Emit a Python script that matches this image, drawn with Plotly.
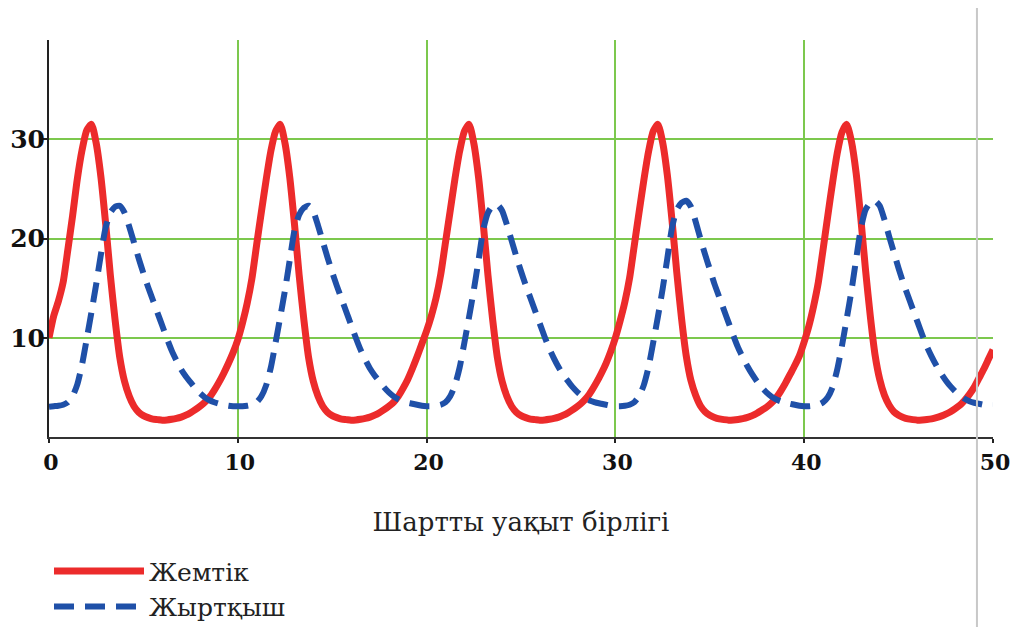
import plotly.graph_objects as go

# sample grid: conditional time units, step 0.25
time = [k * 0.25 for k in range(201)]

# prey ("Жемтік"), t = 0 ... 50 by 0.25
prey = [
    # 0 - 9.75
    10.0, 12.2, 13.7, 15.6, 18.9, 22.3, 26.0, 28.9, 30.9, 31.5,
    29.6, 26.2, 21.5, 16.3, 11.8, 8.0, 5.6, 4.1, 3.1, 2.5,
    2.15, 1.95, 1.8, 1.75, 1.7, 1.72, 1.78, 1.87, 2.0, 2.2,
    2.45, 2.75, 3.1, 3.5, 4.0, 4.7, 5.5, 6.4, 7.4, 8.5,
    # 10 - 19.75
    9.8, 11.5, 13.5, 16.0, 19.4, 22.7, 25.9, 28.8, 30.8, 31.5,
    29.6, 26.2, 21.5, 16.3, 11.8, 8.0, 5.6, 4.1, 3.1, 2.5,
    2.15, 1.95, 1.8, 1.75, 1.7, 1.72, 1.78, 1.87, 2.0, 2.2,
    2.45, 2.75, 3.1, 3.5, 4.1, 4.9, 5.8, 6.9, 8.1, 9.4,
    # 20 - 29.75
    10.7, 12.2, 14.0, 16.4, 19.6, 22.8, 26.0, 28.8, 30.8, 31.5,
    29.6, 26.2, 21.5, 16.3, 11.8, 8.0, 5.6, 4.1, 3.1, 2.5,
    2.15, 1.95, 1.8, 1.75, 1.7, 1.72, 1.78, 1.87, 2.0, 2.2,
    2.45, 2.75, 3.1, 3.5, 4.0, 4.7, 5.5, 6.4, 7.4, 8.6,
    # 30 - 39.75
    10.0, 11.7, 13.6, 16.0, 19.3, 22.6, 25.8, 28.7, 30.8, 31.5,
    29.7, 26.4, 21.8, 16.6, 12.0, 8.2, 5.7, 4.2, 3.15, 2.55,
    2.2, 1.97, 1.82, 1.75, 1.7, 1.72, 1.77, 1.85, 1.97, 2.15,
    2.4, 2.7, 3.0, 3.4, 3.9, 4.6, 5.4, 6.3, 7.2, 8.2,
    # 40 - 49.75
    9.6, 11.2, 13.2, 15.6, 18.9, 22.3, 25.6, 28.6, 30.7, 31.5,
    29.8, 26.6, 22.0, 16.8, 12.2, 8.3, 5.8, 4.2, 3.2, 2.55,
    2.2, 1.97, 1.82, 1.75, 1.7, 1.72, 1.76, 1.83, 1.95, 2.1,
    2.3, 2.55, 2.85, 3.2, 3.7, 4.3, 5.0, 5.9, 6.8, 7.8,
    # 50
    8.8,
]

# predator ("Жыртқыш"), t = 0 ... 50 by 0.25
predator = [
    # 0 - 9.75
    3.05, 3.1, 3.15, 3.25, 3.5, 4.1, 5.3, 7.3, 9.9, 12.6,
    15.4, 18.4, 21.1, 22.6, 23.2, 23.3, 22.6, 21.2, 19.6, 18.0,
    16.5, 15.1, 13.8, 12.5, 11.2, 9.9, 8.7, 7.7, 6.8, 6.1,
    5.5, 4.9, 4.4, 4.0, 3.7, 3.5, 3.35, 3.25, 3.15, 3.1,
    # 10 - 19.75
    3.1, 3.1, 3.15, 3.25, 3.5, 4.1, 5.2, 7.0, 9.5, 12.1,
    14.8, 17.8, 20.8, 22.4, 23.1, 23.3, 22.7, 21.3, 19.7, 18.1,
    16.6, 15.2, 13.9, 12.6, 11.3, 10.0, 8.8, 7.8, 6.9, 6.2,
    5.6, 5.0, 4.5, 4.1, 3.8, 3.6, 3.45, 3.35, 3.25, 3.15,
    # 20 - 29.75
    3.1, 3.1, 3.15, 3.25, 3.5, 4.1, 5.2, 7.0, 9.5, 12.1,
    14.8, 17.8, 20.9, 22.6, 23.3, 23.4, 22.8, 21.4, 19.8, 18.2,
    16.7, 15.3, 14.0, 12.7, 11.4, 10.1, 8.9, 7.9, 7.0, 6.2,
    5.6, 5.0, 4.5, 4.1, 3.8, 3.6, 3.45, 3.35, 3.25, 3.15,
    # 30 - 39.75
    3.1, 3.1, 3.15, 3.25, 3.5, 4.1, 5.2, 7.0, 9.5, 12.1,
    14.9, 18.0, 21.1, 22.9, 23.6, 23.8, 23.2, 21.7, 20.0, 18.4,
    16.9, 15.4, 14.1, 12.8, 11.5, 10.2, 9.0, 8.0, 7.1, 6.3,
    5.6, 5.0, 4.5, 4.1, 3.8, 3.6, 3.45, 3.35, 3.25, 3.15,
    # 40 - 49.75
    3.1, 3.1, 3.15, 3.25, 3.5, 4.0, 5.0, 6.8, 9.2, 11.9,
    14.7, 17.9, 21.0, 22.9, 23.6, 23.8, 23.3, 21.9, 20.2, 18.6,
    17.0, 15.5, 14.2, 12.9, 11.6, 10.3, 9.1, 8.1, 7.2, 6.4,
    5.7, 5.1, 4.6, 4.2, 3.85, 3.6, 3.45, 3.35, 3.25, 3.2,
    # 50
    3.2,
]

x_ticks = [0, 10, 20, 30, 40, 50]
y_ticks = [10, 20, 30]
series_names = ["Жемтік", "Жыртқыш"]
x_title = "Шартты уақыт бірлігі"

RED = "#EC2B2B"
BLUE = "#1F50A8"
GREEN = "#7CC84E"

fig = go.Figure()
fig.add_trace(go.Scatter(
    x=time, y=prey, mode="lines", name=series_names[0],
    line=dict(color=RED, width=7, shape="spline", smoothing=0.6),
))
fig.add_trace(go.Scatter(
    x=time, y=predator, mode="lines", name=series_names[1],
    line=dict(color=BLUE, width=6, dash="20px,11px", shape="spline", smoothing=0.6),
))

x_tick_font = dict(family="DejaVu Serif", size=22, color="#111111", weight="bold")
y_tick_font = dict(family="DejaVu Serif", size=25, color="#111111", weight="bold")

# page body has an 8px margin, so the figure is 16px smaller than the window
fig.update_layout(
    width=1002, height=619,
    margin=dict(l=41, r=17, t=32, b=190, autoexpand=False),
    paper_bgcolor="white", plot_bgcolor="white",
    showlegend=True,
    legend=dict(
        x=0.0, xanchor="left", y=-0.28, yanchor="top",
        font=dict(family="DejaVu Serif", size=25, color="#222222"),
        itemwidth=90, bgcolor="rgba(0,0,0,0)", tracegroupgap=0,
    ),
    xaxis=dict(
        range=[0, 50], tickvals=x_ticks, ticktext=[str(v) for v in x_ticks],
        showgrid=True, gridcolor=GREEN, gridwidth=2,
        zeroline=False, showline=True, linecolor="#333333", linewidth=2,
        ticks="outside", ticklen=4, tickwidth=2, tickcolor="#222222",
        tickfont=x_tick_font, ticklabelshift=2, ticklabelstandoff=1,
        ticklabeloverflow="allow", automargin=False,
        title=dict(text=x_title, standoff=38,
                   font=dict(family="DejaVu Serif", size=26, color="#222222")),
    ),
    yaxis=dict(
        range=[0, 40], tickvals=y_ticks, ticktext=[str(v) for v in y_ticks],
        showgrid=True, gridcolor=GREEN, gridwidth=2,
        zeroline=False, showline=True, linecolor="#222222", linewidth=2,
        ticks="outside", ticklen=5, tickwidth=2, tickcolor="#222222",
        tickfont=y_tick_font, ticklabelstandoff=-8, ticklabeloverflow="allow",
        automargin=False,
    ),
    shapes=[
        dict(type="line", xref="paper", yref="paper",
             x0=0.983, x1=0.983, y0=-0.51, y1=1.11,
             line=dict(color="#C8C8C8", width=2), layer="above"),
    ],
)

fig.write_html("out.html")
